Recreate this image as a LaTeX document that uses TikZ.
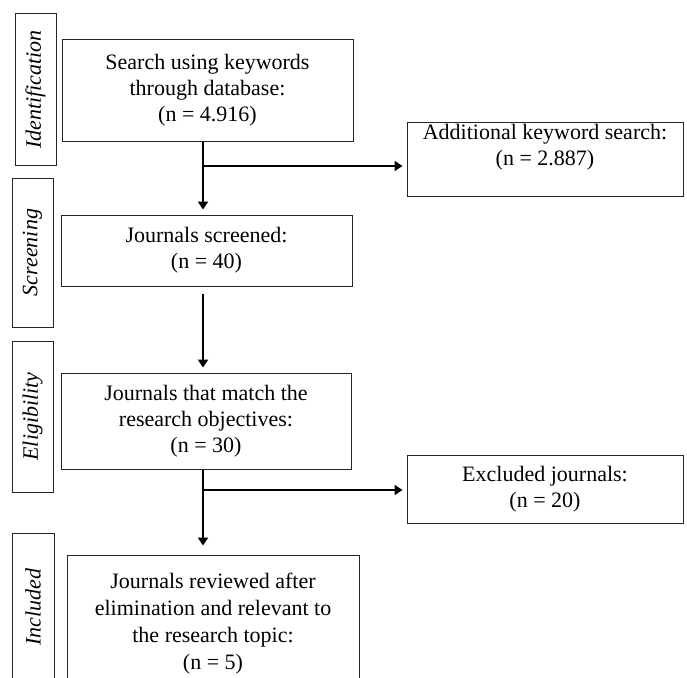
\documentclass[tikz,border=0pt]{standalone}
\usepackage{fontspec}
\setmainfont{Liberation Serif}
\usetikzlibrary{arrows.meta}
\begin{document}
\begin{tikzpicture}[x=1pt,y=-1pt,
  boxstyle/.style={draw=black!85,line width=1pt,rectangle,inner sep=0pt,align=center,
    font=\fontsize{22}{26}\selectfont},
  labelbox/.style={draw=black!85,line width=1pt,rectangle,inner sep=0pt,rotate=90,
    font=\fontsize{22}{26}\selectfont\itshape},
  txt/.style={inner sep=0pt,align=center,font=\fontsize{22}{26}\selectfont},
  flow/.style={line width=2pt,-{Triangle[width=10pt,length=8pt]}},
  plain/.style={line width=2pt}]
\useasboundingbox (0,0) rectangle (687,677);
\begin{scope}
\clip (0,0) rectangle (687,677);
% stage labels
\node[labelbox,minimum width=151pt,minimum height=41pt] (lid) at (35.5,89.5) {Identification};
\node[labelbox,minimum width=149pt,minimum height=41pt] (lsc) at (32.5,252.5) {Screening};
\node[labelbox,minimum width=151pt,minimum height=41pt] (lel) at (32.5,416.5) {Eligibility};
\node[labelbox,minimum width=160pt,minimum height=42pt] (lin) at (33,613) {};
\node[txt,rotate=90,font=\fontsize{22}{26}\selectfont\itshape] (linT) at (33,607) {Included};
% boxes
\node[boxstyle,minimum width=291pt,minimum height=101pt] (b1) at (207.5,90.5)
  {Search using keywords\\through database:\\(n = 4.916)};
\node[boxstyle,minimum width=291pt,minimum height=71pt] (b2) at (206.5,250.5)
  {Journals screened:\\(n = 40)};
\node[boxstyle,minimum width=276pt,minimum height=74pt] (b3) at (545,159) {};
\node[txt] (b3t) at (545,147) {Additional keyword search:\\(n = 2.887)};
\node[boxstyle,minimum width=290pt,minimum height=96pt] (b4) at (206,421)
  {Journals that match the\\research objectives:\\(n = 30)};
\node[boxstyle,minimum width=276pt,minimum height=68pt] (b5) at (545,489)
  {Excluded journals:\\(n = 20)};
\node[boxstyle,minimum width=292pt,minimum height=150pt] (b6) at (213,630) {};
\node[txt,font=\fontsize{22}{27}\selectfont] (b6t) at (213,624)
  {Journals reviewed after\\elimination and relevant to\\the research topic:\\(n = 5)};
% connectors
\coordinate (ax) at (203,0);
\coordinate (j1) at (203,166);
\coordinate (j2) at (203,490);
\draw[flow,shorten >=5pt] (b1.south -| ax) -- (b2.north -| ax);
\draw[flow,shorten >=4pt] (j1) -- (b3.west |- j1);
\draw[flow,shorten <=7pt,shorten >=5pt] (b2.south -| ax) -- (b4.north -| ax);
\draw[flow,shorten >=9pt] (b4.south -| ax) -- (b6.north -| ax);
\draw[flow,shorten >=4pt] (j2) -- (b5.west |- j2);
\end{scope}
\end{tikzpicture}
\end{document}
